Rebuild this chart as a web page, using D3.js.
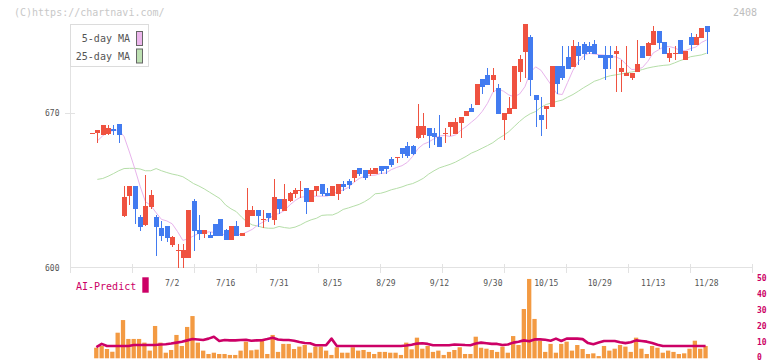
<!DOCTYPE html>
<html><head><meta charset="utf-8">
<script src="https://cdn.jsdelivr.net/npm/d3@7"></script>
<style>body{margin:0;background:#fff}svg{display:block}</style>
</head><body><svg id="c" width="772" height="361"></svg>
<script>
// ---- data ----
const opens  = [660.9,661,660,660.5,663,665,623.5,632.6,637,623.1,619.6,627.8,623.1,618.3,619,610.4,608,604.7,604.7,630.3,617.2,615.5,614.9,619.9,622.2,617.2,612.7,619,614.5,618.7,623.7,626.2,622.1,624.8,621.7,631.2,625.9,630.3,633.4,635.3,636.2,629.8,634.8,638,633.9,632.5,633.4,638,639.3,640.7,645.2,644.3,642.5,642.5,646.1,646.1,649.3,650.2,654.3,655.2,655.2,659,660,663.4,661.1,659.3,661.1,663.9,660.7,665.6,668.8,672.4,673.8,685.5,687.4,685.1,681.5,667,669.7,672,688.7,697.8,704.5,678.3,669.3,672,672.9,691.4,691.4,695.5,691,700.5,701.4,700.5,701.4,696.4,696.4,696.4,696.9,688.7,686.9,686,688.7,700.5,696,700.9,707.3,702.3,695,697.3,703.2,694.1,704.5,700.9,704.1,709.5];
const highs  = [661.2,662.5,664.5,664.5,664.5,665,637,637,637,624,642.1,635.3,623.8,621.3,619,614.5,610.7,610.7,626.3,631.2,624,617.2,616.3,620,622.2,617.5,619,621.3,616,636.3,628,626.2,626.2,624.8,640.2,631.2,638,634.5,636.3,639.3,636.2,635.3,637.1,638,636.2,637.1,638,639.3,640.2,644.3,645.2,644.3,645.2,645.2,646.1,646.1,650.2,650.2,654.3,657,655.5,674.2,670.1,663.4,663.4,669.3,663.4,666.1,667.9,668.3,671.1,674.2,683.3,685.5,690.5,690.5,683.3,670.2,677.4,691.4,696.4,710.4,705.5,678.3,677.4,673.3,691.4,691.4,700.5,700.5,703.2,702.3,702.3,702.3,703.2,696.4,700.5,700.5,700.5,694.1,700.5,688.3,703.2,700.5,702.3,709.5,707.3,702.3,699.6,700.5,703.2,698.2,706.4,705.9,708.6,709.5];
const lows   = [660.6,656.5,660,660,660,656.5,623,628.5,619.8,616.9,619,626.5,605.6,612.4,611.9,609.7,600,600,604.7,607.7,612.7,613.7,613.7,614.6,614.6,612.5,612.7,614.5,614.5,618.7,623.7,618.7,617.9,620.9,619.6,624.4,625.9,630,631.8,631.8,624.5,629.8,632.5,632.5,632.5,632.5,630.7,634.8,635.7,638.9,641.6,639.8,641.6,642.5,642.5,642.5,645.7,647.5,649.7,649.7,651,658.5,659,654.2,655.7,654.8,656.6,659.9,660.7,658.8,668.8,670.6,673.8,678.8,682.8,679.7,669.7,657.9,669.7,672,684.2,686,677.9,663.8,659.7,662.9,672.9,678.8,685,690,691,691.9,694.1,696.9,696.9,695,685.1,690.1,679.7,679.7,686.9,685.1,688.7,695,696,700.9,699.1,696.9,693.2,694.1,696.9,694.1,698.2,700.9,704.1,696.9];
const closes = [661,662.5,664.5,663.5,662,660,632,637,626.9,618.7,628.1,633,618.7,614.6,613.7,614,608.2,608.2,626.3,616.9,615.5,617.2,613.7,614.6,614.6,612.8,619,614.5,615.8,626.2,626.2,623.7,622.3,622.7,632.1,626.8,631.2,633.9,635.3,635.5,629.8,635.3,637.1,633.6,632.5,637.1,638,636.6,637.5,644.3,642.5,640.7,644.3,645.2,643.8,644.8,646.6,650.4,651.5,650.6,651.6,664.3,664.3,659.7,659.3,654.8,661.2,666.1,666.1,668.3,671.1,670.6,683.3,681.9,682.8,687.4,669.7,670.2,672.4,691.4,694.6,710.4,685.1,676,667,673.3,691.4,683.3,686,690.1,700.5,696,696.9,697.8,696.9,695,690.1,695,698.2,690.5,688.3,688.3,692.3,695,701.8,707.3,701.8,696.9,697.3,697.5,696.9,698.2,700.9,704.5,708.6,706.8];
const ma5    = [null,657.5,659.8,661.5,662.2,662.5,659.5,652.5,645,637,630,628.3,625,622,621.3,620,616.5,612.5,613.2,614.5,615.7,616,616.4,616,615.5,615,614.9,614.9,615.3,616.3,617.5,619.4,620.8,622,624,624.6,626,628.5,630.5,632,632.3,632.5,632.5,632.5,632.5,633.5,634.5,635.3,636.5,638.7,640.5,641.5,641.9,642,642.8,643,644.5,645.5,646.3,647.8,650.5,654,656,657,658.5,659.7,660,659.5,660.2,662.3,664,666,668,670.8,674.5,679.5,681,680,678.3,677.5,678.7,682,688.5,691,689.5,686,682.5,678.8,678.5,684,689.5,693.4,696,697.2,696.8,696.5,696.3,695.6,695.5,694.5,692,689.8,690,690.7,693.5,697.3,698.7,700.1,700.2,699.6,698.5,698.3,699.3,700,702,703.2];
const ma25   = [null,640.1,640.5,641.5,642.7,644,645,645.1,645.1,644.8,644,644,645,644,643.2,642.5,642,641.3,639.8,638.2,637.1,635.8,634.3,632.8,631.3,628.5,626.8,625.5,623,620.8,619.5,619,618.3,618,618,618.8,618.3,618,618.5,619.5,620.8,621.8,622.5,623.8,624,624,625,626.5,627.2,628,628.8,630,631.5,633.6,633.8,634.5,635.4,636,636.7,637.6,638.2,639.3,640.6,642.5,644,645.3,646.1,646.9,647.9,649.2,650.5,652,653,654.2,655.4,656.7,658.5,660,661.7,664,666.3,668.3,669.8,670.8,672.7,674,674.7,675.4,676,677.3,678.5,680,681.6,683,684.5,685.3,686.3,687,687.4,687.8,688.3,688.7,689.2,689.8,690.5,691,691.4,691.7,691.9,692.8,693.8,694.6,695.6,696,696.4,697.2];
const volumes= [null,6.6,7.7,5.8,4.1,16,23.9,12.1,12.1,12.1,9.8,4.8,20.2,9.8,3.5,5.2,14.6,7.7,19.6,26.4,9.8,4.8,2.7,3.5,2.7,2.7,2.1,2.1,4.8,10.4,5,5.4,12.1,2.7,14.6,4,9,9,5.8,7.3,8.3,3.5,7.3,7.3,4.8,2.1,6.9,3.5,3.5,6.9,4.8,5.2,4,2.7,4,4,3.5,3.5,2.1,9.8,5.6,12.9,6,7.7,4,4.8,2.1,4,5.2,6.9,2.7,2.7,13.5,6.6,6,5.2,4,7.3,3.5,13.9,8.3,30.8,49.6,24.6,10.8,4,9,3.5,9,10.4,4.8,8.3,5.8,2.7,3.1,1.4,7.7,4.8,6,8.3,7.3,4,12.9,6,2.7,7.7,6.6,3.5,4.8,4,2.7,3.1,6,11,6,7.7];
const volMA  = [null,7,9,7.7,7.7,7.7,7.7,7.7,8.3,8.3,8.3,8.3,8.3,8.6,8.8,9.2,9.8,10.3,11.2,12.1,11.8,11.4,12.3,13.5,10.8,11.4,11.2,11.2,11.4,11.6,11,11.2,11.3,12,12.9,11.8,11.4,11.4,11,10.2,9.6,9.4,8.2,8.2,8.2,12.3,7.7,7.7,7.7,7.7,7.7,7.7,7.7,7.7,7.7,7.7,7.7,7.7,7.7,8,8.5,9.2,9.4,9,8.2,8.2,8.2,8.2,8.6,8.5,8.3,8.2,9.2,9.8,9.4,9,9,8.3,8.6,9.8,10.4,11.2,10.6,11.8,11.8,11.6,11,12.3,10.8,12.3,12.3,12.3,12,9.5,8.8,9.8,10.8,10.8,10.8,10,9.5,10,11.2,10.8,10.4,9.6,8.5,7.7,7.7,7.7,7.7,7.7,7.7,7.7,7.7,7.7];
const tickIdx    = [15,25,35,45,55,65,75,85,95,105,115];
const tickLabels = ["7/2","7/16","7/31","8/15","8/29","9/12","9/30","10/15","10/29","11/13","11/28"];
const priceTicks = [600,670];
const volTicks   = [0,10,20,30,40,50];

// ---- drawing ----
const svg = d3.select('#c');
const MONO = "'DejaVu Sans Mono', 'Liberation Mono', monospace";
const UP = '#ef5240', DOWN = '#427bf0';
const N = closes.length;
const x  = d3.scaleLinear().domain([0, N-1]).range([92, 706.6]);
const y  = d3.scaleLinear().domain([600, 670]).range([268, 113.3]);
const yv = d3.scaleLinear().domain([0, 50]).range([358.3, 278.3]);
const idx = d3.range(N);

// header texts
svg.append('text').attr('x',14).attr('y',15.5).attr('font-family',MONO).attr('font-size',10)
  .attr('fill','#c8c8c8').text('(C)https://chartnavi.com/');
svg.append('text').attr('x',757).attr('y',15.5).attr('text-anchor','end').attr('font-family',MONO)
  .attr('font-size',10).attr('fill','#bdbdbd').text('2408');

// axes
const ax = svg.append('g').attr('stroke','#e2e2e2').attr('stroke-width',1).attr('shape-rendering','crispEdges');
ax.append('line').attr('x1',70.5).attr('x2',70.5).attr('y1',y(710.4)).attr('y2',268.5);
ax.append('line').attr('x1',70).attr('x2',753).attr('y1',267.5).attr('y2',267.5);
ax.selectAll('.gt').data(d3.range(12)).join('line')
  .attr('x1',d=>70.5+62*d).attr('x2',d=>70.5+62*d).attr('y1',264).attr('y2',273);
ax.selectAll('.yt').data(priceTicks.filter(v=>v>600)).join('line')
  .attr('x1',65).attr('x2',75).attr('y1',d=>Math.round(y(d))+0.5).attr('y2',d=>Math.round(y(d))+0.5);

svg.selectAll('.ylab').data(priceTicks).join('text')
  .attr('x',59.5).attr('y',d=>y(d)+3).attr('text-anchor','end').attr('font-family',MONO)
  .attr('font-size',8).attr('fill','#555').text(d=>d);

svg.selectAll('.xlab').data(tickIdx).join('text')
  .attr('x',d=>x(d)).attr('y',285.5).attr('text-anchor','middle').attr('font-family',MONO)
  .attr('font-size',8).attr('fill','#555').text((d,i)=>tickLabels[i]);

// moving averages
const line = arr => d3.line().defined(i=>arr[i]!=null).x(i=>x(i)).y(i=>y(arr[i]))(idx);
svg.append('path').attr('d',line(ma25)).attr('fill','none').attr('stroke','#b5dea8').attr('stroke-width',1);
svg.append('path').attr('d',line(ma5)).attr('fill','none').attr('stroke','#e8b4ec').attr('stroke-width',1);

// candles
const cg = svg.append('g').attr('shape-rendering','crispEdges');
const col = i => closes[i] >= opens[i] ? UP : DOWN;
cg.selectAll('.wick').data(idx).join('line')
  .attr('x1',i=>Math.round(x(i))+0.5).attr('x2',i=>Math.round(x(i))+0.5)
  .attr('y1',i=>y(highs[i])).attr('y2',i=>Math.min(268,y(lows[i])))
  .attr('stroke',col).attr('stroke-width',1);
cg.selectAll('.body').data(idx).join('rect')
  .attr('x',i=>Math.round(x(i))-2).attr('width',5)
  .attr('y',i=>y(Math.max(opens[i],closes[i])))
  .attr('height',i=>Math.max(1,Math.abs(y(opens[i])-y(closes[i]))))
  .attr('fill',col);

// legend
const lg = svg.append('g');
lg.append('rect').attr('x',70.5).attr('y',24.5).attr('width',78).attr('height',42)
  .attr('fill','#fff').attr('stroke','#dcdcdc');
[['5-day MA','#ecb6ec',38.5],['25-day MA','#bde0b2',56]].forEach(([t,c,cy])=>{
  lg.append('text').attr('x',130).attr('y',cy+3.5).attr('text-anchor','end').attr('font-family',MONO)
    .attr('font-size',10).attr('fill','#555').text(t);
  lg.append('rect').attr('x',136.5).attr('y',cy-7).attr('width',6).attr('height',14)
    .attr('fill',c).attr('stroke','#666').attr('stroke-width',1);
});

// volume panel
svg.selectAll('.vol').data(idx.filter(i=>volumes[i]!=null)).join('rect')
  .attr('x',i=>x(i)-3.2).attr('width',4.3)
  .attr('y',i=>yv(volumes[i])).attr('height',i=>yv(0)-yv(volumes[i]))
  .attr('fill','#f39a42');
svg.append('path')
  .attr('d',d3.line().defined(i=>volMA[i]!=null).x(i=>x(i)-1).y(i=>yv(volMA[i]))(idx))
  .attr('fill','none').attr('stroke','#cc0066').attr('stroke-width',2.6).attr('stroke-linejoin','round');
svg.selectAll('.vlab').data(volTicks).join('text')
  .attr('x',757).attr('y',d=>Math.min(360.3, yv(d)+3)).attr('font-family',MONO).attr('font-size',8)
  .attr('font-weight','bold').attr('fill','#cc0066').text(d=>d);
svg.append('text').attr('x',76).attr('y',289.5).attr('font-family',MONO).attr('font-size',10)
  .attr('fill','#cc0066').text('AI-Predict');
svg.append('rect').attr('x',142.3).attr('y',277.3).attr('width',6.4).attr('height',15.4).attr('fill','#cc0066');
</script></body></html>
